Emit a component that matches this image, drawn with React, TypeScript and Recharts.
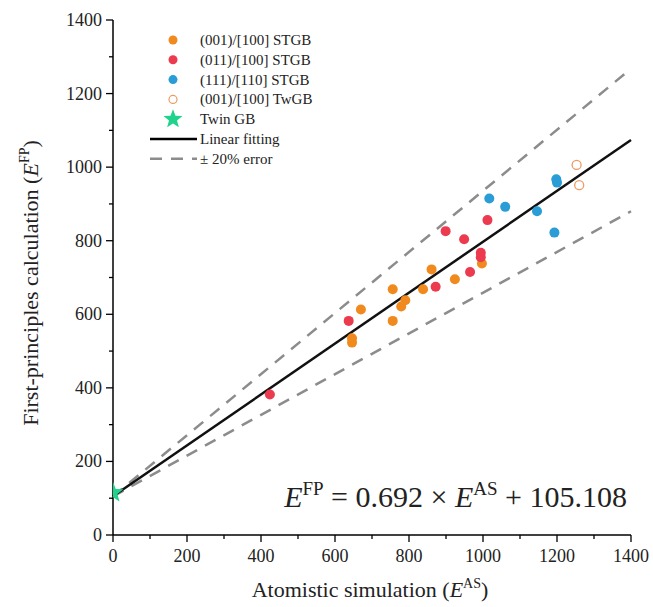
import {
  ComposedChart,
  Scatter,
  XAxis,
  YAxis,
  ReferenceLine,
} from "recharts";

const stgb001X = [646, 646, 670, 756, 756, 779, 790, 838, 861, 924, 997];
const stgb001Y = [535, 523, 613, 668, 582, 621, 638, 668, 722, 695, 738];

const stgb011X = [424, 637, 872, 899, 949, 965, 994, 994, 1012];
const stgb011Y = [382, 582, 675, 826, 804, 715, 767, 755, 856];

const stgb111X = [1017, 1060, 1146, 1198, 1200, 1193];
const stgb111Y = [915, 892, 880, 967, 958, 822];

const twgbX = [1253, 1260];
const twgbY = [1006, 951];

const twinX = [0];
const twinY = [115];

const slope = 0.692;
const intercept = 105.108;
const errorPct = 0.2;

const xTicks = [0, 100, 200, 300, 400, 500, 600, 700, 800, 900, 1000, 1100, 1200, 1300, 1400];
const yTicks = xTicks;

const zip = (xs: number[], ys: number[]) => xs.map((x, i) => ({ x, y: ys[i] }));

const ORANGE = "#f08a1e";
const RED = "#ec3a4f";
const BLUE = "#2a9cd6";
const OPEN = "#eb9a64";
const GREEN = "#1fd38c";
const FONT = "'Times New Roman', 'Liberation Serif', Tinos, 'DejaVu Serif', 'Noto Serif', serif";

const starPoints = (cx: number, cy: number, r: number) => {
  const pts: string[] = [];
  for (let i = 0; i < 10; i++) {
    const rad = i % 2 === 0 ? r : r * 0.42;
    const a = -Math.PI / 2 + (i * Math.PI) / 5;
    pts.push(`${cx + rad * Math.cos(a)},${cy + rad * Math.sin(a)}`);
  }
  return pts.join(" ");
};

const Dot = (color: string) => (p: any) => (
  <circle cx={p.cx} cy={p.cy} r={5} fill={color} stroke="none" />
);
const OpenDot = (p: any) => (
  <circle cx={p.cx} cy={p.cy} r={4.5} fill="#fff" stroke={OPEN} strokeWidth={1.3} />
);
const Star = (p: any) => <polygon points={starPoints(p.cx, p.cy, 11)} fill={GREEN} />;

const XTick = (p: any) => {
  const major = p.payload.value % 200 === 0;
  return (
    <g>
      <line x1={p.x} x2={p.x} y1={p.y} y2={p.y + (major ? 7 : 4)} stroke="#000" strokeWidth={1.3} />
      {major && (
        <text x={p.x} y={p.y + 27} textAnchor="middle" fontSize={18} style={{ fontFamily: FONT }} fill="#222">
          {p.payload.value}
        </text>
      )}
    </g>
  );
};

const YTick = (p: any) => {
  const major = p.payload.value % 200 === 0;
  return (
    <g>
      <line x1={p.x - (major ? 7 : 4)} x2={p.x} y1={p.y} y2={p.y} stroke="#000" strokeWidth={1.3} />
      {major && (
        <text x={p.x - 11} y={p.y + 6} textAnchor="end" fontSize={18} style={{ fontFamily: FONT }} fill="#222">
          {p.payload.value}
        </text>
      )}
    </g>
  );
};

const legendRows = [
  { label: "(001)/[100] STGB", kind: "dot", color: ORANGE },
  { label: "(011)/[100] STGB", kind: "dot", color: RED },
  { label: "(111)/[110] STGB", kind: "dot", color: BLUE },
  { label: "(001)/[100] TwGB", kind: "open", color: OPEN },
  { label: "Twin GB", kind: "star", color: GREEN },
  { label: "Linear fitting", kind: "line", color: "#000" },
  { label: "± 20% error", kind: "dash", color: "#8c8c8c" },
];

export default function App() {
  return (
    <div style={{ position: "absolute", left: 0, top: 0, width: 653, height: 607, background: "#fff", fontFamily: FONT }}>
      <ComposedChart width={653} height={607} margin={{ top: 20, right: 22, left: 0, bottom: 0 }}>
        <XAxis
          type="number"
          dataKey="x"
          domain={[0, 1400]}
          ticks={xTicks}
          interval={0}
          height={72}
          tickSize={0}
          tickMargin={0}
          tickLine={false}
          axisLine={{ stroke: "#000", strokeWidth: 1.5 }}
          tick={<XTick />}
          allowDataOverflow
        />
        <YAxis
          type="number"
          dataKey="y"
          domain={[0, 1400]}
          ticks={yTicks}
          interval={0}
          width={113}
          tickSize={0}
          tickMargin={0}
          tickLine={false}
          axisLine={{ stroke: "#000", strokeWidth: 1.5 }}
          tick={<YTick />}
          allowDataOverflow
        />
        <ReferenceLine
          segment={[{ x: 0, y: intercept }, { x: 1400, y: slope * (1 + errorPct) * 1400 + intercept }]}
          stroke="#8c8c8c"
          strokeWidth={2.5}
          strokeDasharray="12 9"
          ifOverflow="visible"
        />
        <ReferenceLine
          segment={[{ x: 0, y: intercept }, { x: 1400, y: slope * (1 - errorPct) * 1400 + intercept }]}
          stroke="#8c8c8c"
          strokeWidth={2.5}
          strokeDasharray="12 9"
          ifOverflow="visible"
        />
        <ReferenceLine
          segment={[{ x: 0, y: intercept }, { x: 1400, y: slope * 1400 + intercept }]}
          stroke="#111"
          strokeWidth={2.5}
          ifOverflow="visible"
        />
        <Scatter data={zip(stgb001X, stgb001Y)} shape={Dot(ORANGE)} isAnimationActive={false} />
        <Scatter data={zip(stgb011X, stgb011Y)} shape={Dot(RED)} isAnimationActive={false} />
        <Scatter data={zip(stgb111X, stgb111Y)} shape={Dot(BLUE)} isAnimationActive={false} />
        <Scatter data={zip(twgbX, twgbY)} shape={OpenDot} isAnimationActive={false} />
        <Scatter data={zip(twinX, twinY)} shape={Star} isAnimationActive={false} />
      </ComposedChart>

      <svg
        width={653}
        height={607}
        style={{ position: "absolute", left: 0, top: 0, pointerEvents: "none", fontFamily: FONT }}
      >
        {legendRows.map((r, i) => {
          const y = 40 + i * 19.8;
          return (
            <g key={r.label}>
              {r.kind === "dot" && <circle cx={173} cy={y} r={4.5} fill={r.color} />}
              {r.kind === "open" && (
                <circle cx={173} cy={y} r={4} fill="#fff" stroke={r.color} strokeWidth={1.2} />
              )}
              {r.kind === "star" && <polygon points={starPoints(173, y, 10)} fill={r.color} />}
              {r.kind === "line" && (
                <line x1={150} x2={197} y1={y} y2={y} stroke={r.color} strokeWidth={2.5} />
              )}
              {r.kind === "dash" && (
                <line x1={150} x2={197} y1={y} y2={y} stroke={r.color} strokeWidth={2.5} strokeDasharray="12 9" />
              )}
              <text x={200} y={y + 5} fontSize={15} fill="#222">
                {r.label}
              </text>
            </g>
          );
        })}

        <text x={627} y={507} textAnchor="end" fontSize={30} fill="#222">
          <tspan fontStyle="italic">E</tspan>
          <tspan fontSize={19} dy={-12}>FP</tspan>
          <tspan dy={12}> = 0.692 × </tspan>
          <tspan fontStyle="italic">E</tspan>
          <tspan fontSize={19} dy={-12}>AS</tspan>
          <tspan dy={12}> + 105.108</tspan>
        </text>

        <text x={370} y={597} textAnchor="middle" fontSize={22} fill="#222">
          Atomistic simulation (<tspan fontStyle="italic">E</tspan>
          <tspan fontSize={14} dy={-9}>AS</tspan>
          <tspan dy={9}>)</tspan>
        </text>

        <text
          transform="translate(38 283) rotate(-90)"
          textAnchor="middle"
          fontSize={22}
          fill="#222"
        >
          First-principles calculation (<tspan fontStyle="italic">E</tspan>
          <tspan fontSize={14} dy={-9}>FP</tspan>
          <tspan dy={9}>)</tspan>
        </text>
      </svg>
    </div>
  );
}
